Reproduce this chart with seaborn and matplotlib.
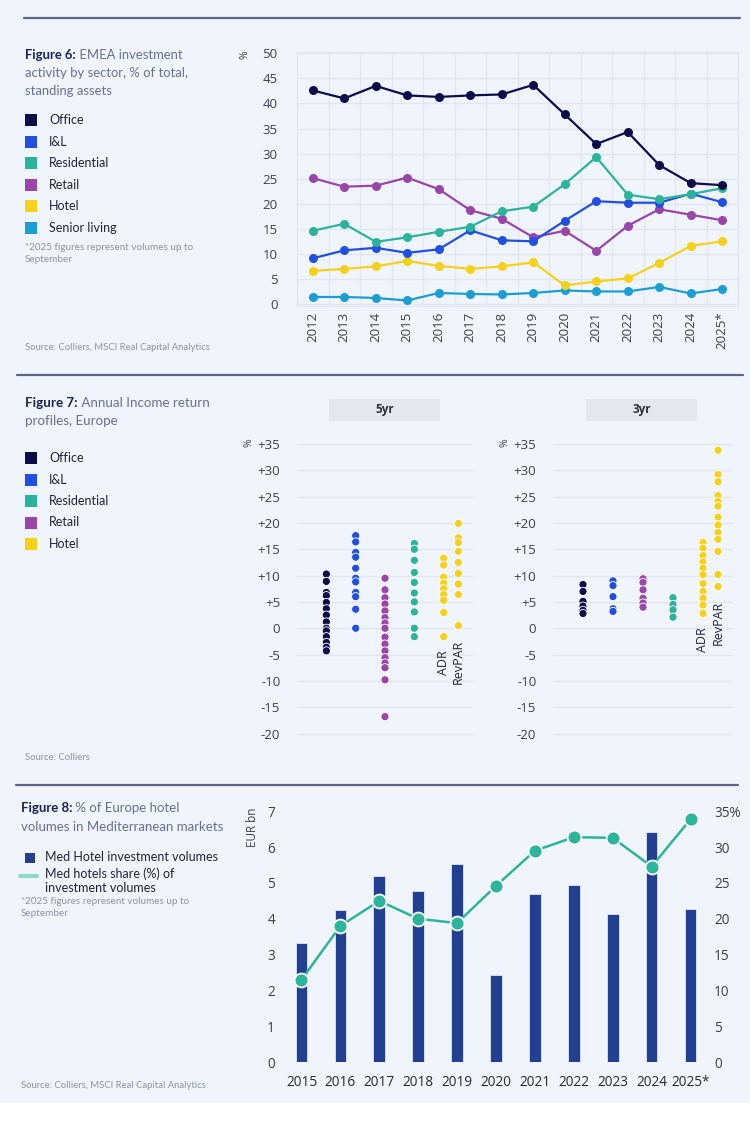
import matplotlib
matplotlib.use("Agg")
import matplotlib.pyplot as plt
from matplotlib.patches import Rectangle
from matplotlib.lines import Line2D
import numpy as np
import pandas as pd
import seaborn as sns

# ---------------- data: figure 6 ----------------
years6 = ["2012", "2013", "2014", "2015", "2016", "2017", "2018",
          "2019", "2020", "2021", "2022", "2023", "2024", "2025*"]
office = [42.6, 41.0, 43.5, 41.6, 41.3, 41.6, 41.8, 43.7, 37.8, 31.9, 34.3, 27.7, 24.1, 23.7]
il = [9.1, 10.7, 11.2, 10.2, 10.9, 14.7, 12.7, 12.5, 16.6, 20.5, 20.2, 20.2, 22.0, 20.3]
residential = [14.6, 16.0, 12.4, 13.3, 14.4, 15.4, 18.5, 19.4, 23.9, 29.3, 21.8, 20.9, 21.9, 23.1]
retail = [25.1, 23.4, 23.6, 25.2, 22.9, 18.7, 17.0, 13.3, 14.6, 10.6, 15.6, 18.9, 17.8, 16.7]
hotel = [6.6, 7.0, 7.5, 8.6, 7.6, 7.0, 7.5, 8.3, 3.7, 4.5, 5.1, 8.2, 11.6, 12.5]
senior = [1.4, 1.4, 1.2, 0.7, 2.2, 2.0, 1.9, 2.2, 2.7, 2.5, 2.5, 3.4, 2.1, 3.0]

# ---------------- data: figure 7 ----------------
office_5 = [10.3, 8.9, 6.8, 6.2, 4.9, 3.7, 2.5, 1.2, 0.0, -0.5, -1.6, -2.7, -3.6, -4.3]
il_5 = [17.6, 16.4, 14.4, 13.5, 11.4, 9.5, 8.8, 6.8, 6.0, 3.6, 0.0]
retail_5 = [9.5, 7.3, 5.8, 4.6, 3.3, 2.0, 1.0, 0.0, -1.7, -3.0, -4.3, -5.6, -6.6, -7.5, -9.8, -16.8]
resi_5 = [16.1, 15.0, 12.9, 10.6, 8.7, 6.7, 5.0, 3.1, 0.0, -1.6]
adr_5 = [13.3, 12.0, 9.7, 8.6, 7.5, 6.4, 5.3, 3.0, -1.6]
revpar_5 = [19.9, 17.2, 16.3, 14.6, 12.5, 10.4, 8.4, 6.4, 0.5]

office_3 = [8.3, 7.0, 5.1, 4.2, 3.4, 2.8]
il_3 = [9.0, 8.1, 6.0, 3.7, 3.2]
retail_3 = [9.4, 8.7, 7.3, 5.7, 4.8, 4.0]
resi_3 = [5.8, 4.5, 3.5, 2.1]
adr_3 = [16.3, 15.2, 13.8, 12.6, 11.4, 10.2, 8.5, 7.0, 5.7, 4.4, 2.8]
revpar_3 = [33.8, 29.2, 27.8, 25.2, 24.1, 23.2, 21.1, 19.6, 18.2, 16.9, 14.6, 10.2, 7.9]

# ---------------- data: figure 8 ----------------
years8 = ["2015", "2016", "2017", "2018", "2019", "2020", "2021", "2022", "2023", "2024", "2025*"]
med_volumes = [3.31, 4.24, 5.19, 4.78, 5.53, 2.44, 4.68, 4.94, 4.12, 6.42, 4.27]
med_share = [11.5, 19.0, 22.5, 20.0, 19.4, 24.6, 29.5, 31.4, 31.3, 27.3, 33.9]

# ---------------- style ----------------
BG = "#f0f4fc"
RULE = "#5d6482"
GRID = "#e0e6f2"
TICK = "#3b404f"
BOLD_C = "#1b2452"
NORM_C = "#687191"
NOTE_C = "#8d93a6"
NAVY = "#233f8f"
TEAL = "#2db59b"

colors = {"Office": "#0c0d4a", "I&L": "#2150e0", "Residential": "#2bb39c",
          "Retail": "#9a45a9", "Hotel": "#f6d11c", "Senior living": "#1b9fd3"}

sns.set_theme(style="white")
plt.rcParams["font.family"] = ["Open Sans", "DejaVu Sans"]
LEFT_FONT = ["Lato", "DejaVu Sans"]

W, H = 750, 1123
fig = plt.figure(figsize=(7.5, 11.23), dpi=100, facecolor=BG)


def box(x0, y0, x1, y1):
    return [x0 / W, 1 - y1 / H, (x1 - x0) / W, (y1 - y0) / H]


def fx(x):
    return x / W


def fy(y):
    return 1 - y / H


def hrule(x0, x1, y):
    fig.add_artist(Line2D([fx(x0), fx(x1)], [fy(y), fy(y)], color=RULE, lw=1.6))


def fig_title(ax, x, y, num, lines, size, gap):
    t = fig.text(fx(x), fy(y), f"Figure {num}:", fontsize=size, fontweight="bold",
                 color=BOLD_C, va="center", ha="left", family=LEFT_FONT)
    ax.annotate(" " + lines[0], xy=(1, 0.5), xycoords=t, va="center", ha="left",
                fontsize=size, color=NORM_C, family=LEFT_FONT)
    for i, ln in enumerate(lines[1:], start=1):
        fig.text(fx(x), fy(y + i * gap), ln, fontsize=size, color=NORM_C,
                 va="center", ha="left", family=LEFT_FONT)


def square_legend(x, y0, step, names, size, sq=12):
    for i, name in enumerate(names):
        yc = y0 + i * step
        fig.add_artist(Rectangle((fx(x), fy(yc + sq / 2)), sq / W, sq / H,
                                 transform=fig.transFigure, color=colors[name], lw=0))
        fig.text(fx(x + 24), fy(yc), name, fontsize=size, color="#20243a",
                 va="center", ha="left", family=LEFT_FONT)


# white strip at the very bottom
fig.add_artist(Rectangle((0, 0), 1, 20 / H, transform=fig.transFigure, color="white", lw=0))

hrule(24, 740, 18)
hrule(17, 743, 375)
hrule(16, 738, 785)

# ================= Figure 6 =================
ax1 = fig.add_axes(box(297, 52, 738, 306))
ax1.set_facecolor("none")
df6 = pd.DataFrame({"year": years6, "Office": office, "I&L": il, "Residential": residential,
                    "Retail": retail, "Hotel": hotel, "Senior living": senior})
df6["pos"] = np.arange(len(years6))
long6 = df6.melt(id_vars=["year", "pos"], var_name="sector", value_name="share")
sns.lineplot(data=long6, x="pos", y="share", hue="sector", palette=colors,
             hue_order=["Senior living", "Hotel", "Retail", "I&L", "Residential", "Office"],
             marker="o", markersize=6.5, markeredgewidth=0, linewidth=1.6,
             legend=False, ax=ax1)
ax1.set_xlim(-0.5, len(years6) - 0.5)
ax1.set_ylim(-0.4, 50.26)
ax1.set_yticks(np.arange(0, 51, 5))
ax1.set_xticks(df6["pos"])
ax1.set_xticklabels(years6, rotation=90)
ax1.set_xticks(np.arange(-0.5, len(years6), 1), minor=True)
ax1.grid(False)
ax1.grid(True, which="minor", axis="x", color=GRID, lw=0.9)
ax1.grid(True, which="major", axis="y", color=GRID, lw=0.9)
ax1.set_axisbelow(True)
for s in ax1.spines.values():
    s.set_color(GRID)
    s.set_linewidth(0.9)
ax1.tick_params(axis="y", length=0, pad=14, labelsize=9.5, labelcolor=TICK)
ax1.tick_params(axis="x", which="both", length=0, pad=4, labelsize=9.5, labelcolor=TICK)
ax1.set_xlabel("")
ax1.set_ylabel("")
fig.text(fx(245), fy(55), "%", rotation=90, fontsize=7.5, color=TICK, ha="center", va="center")

fig_title(ax1, 25, 55, 6, ["EMEA investment", "activity by sector, % of total,", "standing assets"], 9.4, 18)
square_legend(25, 120, 21.6, ["Office", "I&L", "Residential", "Retail", "Hotel", "Senior living"], 9)
fig.text(fx(25), fy(248), "*2025 figures represent volumes up to", fontsize=7.1,
         color=NOTE_C, va="center", family=LEFT_FONT)
fig.text(fx(25), fy(260), "September", fontsize=7.1, color=NOTE_C, va="center", family=LEFT_FONT)
fig.text(fx(25), fy(348), "Source: Colliers, MSCI Real Capital Analytics", fontsize=6.8,
         color=NOTE_C, va="center", family=LEFT_FONT)

# ================= Figure 7 =================
order7 = ["Office", "I&L", "Retail", "Residential", "ADR", "RevPAR"]
pos7 = {"Office": 0, "I&L": 1, "Retail": 2, "Residential": 3, "ADR": 4, "RevPAR": 4.5}
pal7 = {"Office": colors["Office"], "I&L": colors["I&L"], "Retail": colors["Retail"],
        "Residential": colors["Residential"], "ADR": colors["Hotel"], "RevPAR": colors["Hotel"]}

sets7 = {
    "5yr": [office_5, il_5, retail_5, resi_5, adr_5, revpar_5],
    "3yr": [office_3, il_3, retail_3, resi_3, adr_3, revpar_3],
}
frames = {"5yr": (297, 473, 329, 440), "3yr": (553, 733, 586, 697)}

for period, series in sets7.items():
    x0, x1, hx0, hx1 = frames[period]
    ax = fig.add_axes(box(x0, 436.1, x1, 741.4))
    ax.set_facecolor("none")
    rows = []
    for name, vals in zip(order7, series):
        for v in vals:
            rows.append({"sector": name, "pos": pos7[name], "ret": v})
    d = pd.DataFrame(rows)
    sns.scatterplot(data=d, x="pos", y="ret", hue="sector", palette=pal7, s=34,
                    edgecolor="white", linewidth=0.6, legend=False, ax=ax, zorder=3)
    ax.set_xlim(-1, 5)
    ax.set_ylim(-21.5, 36.5)
    ticks = np.arange(-20, 36, 5)
    ax.set_yticks(ticks)
    ax.set_yticklabels([f"+{t}" if t > 0 else f"{t}" for t in ticks])
    ax.set_xticks([])
    ax.grid(True, axis="y", color=GRID, lw=0.9)
    ax.set_axisbelow(True)
    sns.despine(ax=ax, left=True, bottom=True)
    ax.tick_params(axis="y", length=0, pad=12, labelsize=9.5, labelcolor=TICK)
    ax.set_xlabel("")
    ax.set_ylabel("")
    for name in ["ADR", "RevPAR"]:
        sub = d[d["sector"] == name]
        ax.text(pos7[name], sub["ret"].min() - 2.6, name, rotation=90, ha="center",
                va="top", fontsize=9, color="#20243a")
    # facet header
    fig.add_artist(Rectangle((fx(hx0), fy(421)), (hx1 - hx0) / W, 22 / H,
                             transform=fig.transFigure, color="#e3e7ef", lw=0))
    fig.text(fx((hx0 + hx1) / 2), fy(410), period, fontsize=8.5, fontweight="bold",
             color="#2b2f3c", ha="center", va="center")
    fig.text(fx(x0 - 48), fy(443), "%", rotation=90, fontsize=7.5, color=TICK,
             ha="center", va="center")

fig_title(ax1, 25, 403, 7, ["Annual Income return", "profiles, Europe"], 9.6, 18)
square_legend(25, 458, 21.5, ["Office", "I&L", "Residential", "Retail", "Hotel"], 9)
fig.text(fx(25), fy(758), "Source: Colliers", fontsize=6.8, color=NOTE_C, va="center",
         family=LEFT_FONT)

# ================= Figure 8 =================
ax3 = fig.add_axes(box(282, 806, 710, 1062))
ax3.set_facecolor("none")
sns.barplot(x=years8, y=med_volumes, color=NAVY, width=0.3, saturation=1,
            edgecolor="#dfe6f5", linewidth=0.6, ax=ax3)
ax3.set_xlim(-0.5, len(years8) - 0.5)
ax3.set_ylim(0, 7.15)
ax3.set_yticks(range(0, 8))
ax3.tick_params(axis="y", length=0, pad=5, labelsize=9.8, labelcolor=TICK)
ax3.tick_params(axis="x", length=0, pad=9, labelsize=9.8, labelcolor="#262a36")
sns.despine(ax=ax3, left=True, bottom=True)

ax4 = ax3.twinx()
sns.lineplot(x=np.arange(len(years8)), y=med_share, color=TEAL, marker="o",
             markersize=10, markeredgecolor="white", markeredgewidth=1.3,
             linewidth=1.8, ax=ax4)
ax4.set_xlim(-0.5, len(years8) - 0.5)
ax4.set_ylim(0, 7.15 * 5)
rt = np.arange(0, 36, 5)
ax4.set_yticks(rt)
ax4.set_yticklabels([f"{t}%" if t == 35 else f"{t}" for t in rt])
ax4.tick_params(axis="y", length=0, pad=3, labelsize=9.8, labelcolor=TICK)
for s in ax4.spines.values():
    s.set_visible(False)
ax4.grid(False)
ax3.grid(False)
ax3.set_ylabel("")
ax4.set_ylabel("")
fig.text(fx(253), fy(827), "EUR bn", rotation=90, fontsize=8.5, color=TICK,
         ha="center", va="center")

fig_title(ax3, 21, 808, 8, ["% of Europe hotel", "volumes in Mediterranean markets"], 9.5, 19)
fig.add_artist(Rectangle((fx(25), fy(863)), 10 / W, 10 / H, transform=fig.transFigure,
                         color=NAVY, lw=0))
fig.text(fx(45), fy(857), "Med Hotel investment volumes", fontsize=9, color="#20243a",
         va="center", family=LEFT_FONT)
fig.add_artist(Line2D([fx(20), fx(37)], [fy(876), fy(876)], color="#8fd8c8", lw=3))
fig.text(fx(45), fy(874), "Med hotels share (%) of", fontsize=9, color="#20243a",
         va="center", family=LEFT_FONT)
fig.text(fx(45), fy(888), "investment volumes", fontsize=9, color="#20243a",
         va="center", family=LEFT_FONT)
fig.text(fx(21), fy(902), "*2025 figures represent volumes up to", fontsize=7.1,
         color=NOTE_C, va="center", family=LEFT_FONT)
fig.text(fx(21), fy(914), "September", fontsize=7.1, color=NOTE_C, va="center",
         family=LEFT_FONT)
fig.text(fx(21), fy(1085), "Source: Colliers, MSCI Real Capital Analytics", fontsize=6.8,
         color=NOTE_C, va="center", family=LEFT_FONT)

fig.savefig("out.png", dpi=100, facecolor=BG)
